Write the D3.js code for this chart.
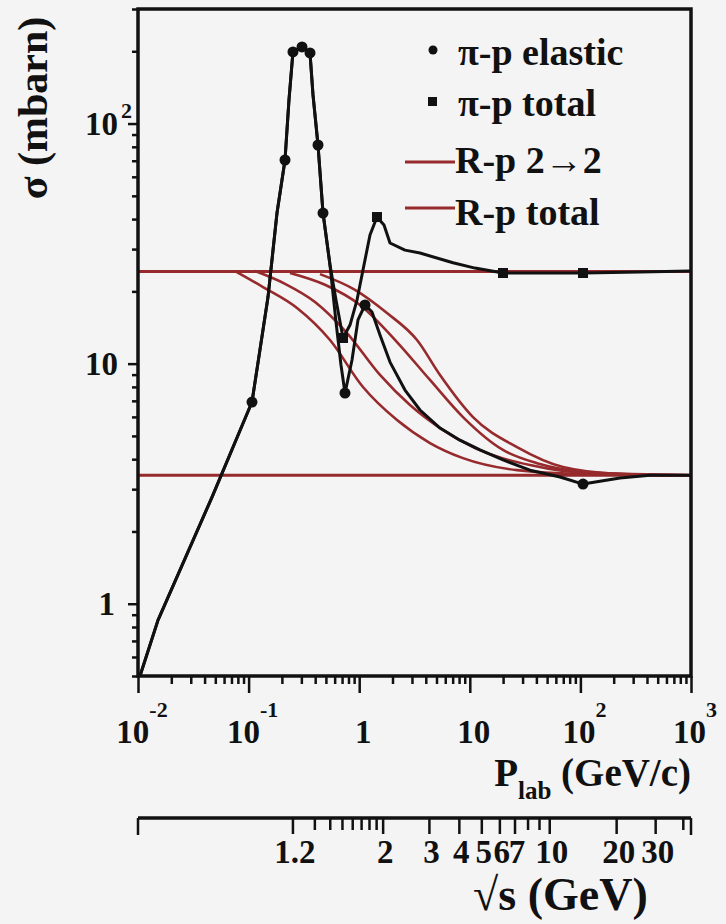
<!DOCTYPE html>
<html><head><meta charset="utf-8">
<script src="https://cdn.jsdelivr.net/npm/d3@7"></script>
<style>html,body{margin:0;padding:0;background:#f4f4f4;}svg{display:block}</style>
</head><body>
<svg id="c" width="726" height="924"></svg>
<script>
// ---------------- DATA ----------------
// pi-p elastic cross-section (p_lab GeV/c, sigma mb)
const elasticP = [0.0100,0.01517,0.0467,0.1073,0.1498,0.1806,0.2134,0.2318,0.2519,0.3040,0.3590,0.3822,0.4241,0.4708,0.5445,0.617,0.6844,0.744,0.861,0.975,1.128,1.305,1.542,1.899,2.594,3.545,5.378,8.155,12.37,19.96,35.03,65.4,105.6,228,426,979];
const elasticS = [0.4715,0.8545,2.781,6.92,18.94,42.4,70.5,125.4,198.8,208.5,196.9,131.6,81.4,42.4,25.76,14.9,9.87,7.54,10.35,15.2,17.55,16.4,13.16,10.15,7.76,6.41,5.39,4.80,4.37,3.97,3.60,3.37,3.15,3.34,3.43,3.43];
const elasticMarkP = [0.1073,0.2134,0.2519,0.3040,0.3590,0.4241,0.4708,0.744,1.128,105.6];
const elasticMarkS = [6.92,70.5,198.8,208.5,196.9,81.4,42.4,7.54,17.55,3.15];
// pi-p total cross-section
const totalP = [0.0100,0.01517,0.0467,0.1073,0.1498,0.1806,0.2134,0.2318,0.2519,0.3040,0.3590,0.3822,0.4241,0.4708,0.5445,0.617,0.714,0.8257,0.9552,1.082,1.252,1.448,1.676,1.899,2.594,3.545,7.05,11.14,19.96,43.1,105.6,345.8,979];
const totalS = [0.4715,0.8545,2.781,6.92,18.94,42.4,70.5,125.4,198.8,208.5,196.9,131.6,81.4,42.4,25.76,18.4,12.79,14.48,18.4,24.55,34.35,40.8,37.8,31.8,29.7,28.9,26.3,25.0,23.85,23.85,23.85,24.1,24.3];
const totalMarkP = [0.714,1.448,19.96,105.6];
const totalMarkS = [12.79,40.8,23.85,23.85];
// R-p model curves
const r1P = [0.0753,0.1349,0.274,0.5445,1.082,2.197,4.366,8.68,26.72,99.2,1000];
const r1S = [24.3,20.85,17.05,12.54,7.99,5.82,4.67,4.04,3.60,3.47,3.43];
const r2P = [0.1143,0.2134,0.3985,0.7758,1.542,2.88,5.378,11.14,35.03,150.4,1000];
const r2S = [24.3,21.5,18.06,13.41,8.97,6.72,5.39,4.45,3.78,3.47,3.43];
const r3P = [0.2367,0.4906,1.017,2.197,4.366,8.68,19.96,40.51,122.1,1000];
const r3S = [23.85,21.3,17.55,12.3,8.55,5.99,4.37,3.85,3.53,3.43];
const r4P = [0.4423,0.9162,1.784,3.332,5.378,10.69,26.72,69.6,228,1000];
const r4S = [23.6,20.3,16.25,12.54,8.97,5.99,4.49,3.71,3.47,3.43];
// asymptotic levels (mb)
const levels = [24.2, 3.43];
// legend
const legendLabels = ["π-p elastic","π-p total","R-p 2→2","R-p total"];
// axis ticks
const xMajor = [0.01,0.1,1,10,100,1000];
const xExp = [-2,-1,0,1,2,3];
const yMajor = [1,10,100];
const yExp = [0,1,2];
const sqrtsMajor = [1.2,2,3,4,5,6,7,10,20,30];
const sqrtsLabels = ["1.2","2","3","4","5","6","7","10","20","30"];
const sqrtsMinor = [1.3,1.4,1.5,1.6,1.7,1.8,1.9,8,9,40];

// ---------------- DRAW ----------------
const svg = d3.select('#c');
const W = 726, H = 924;
const M = {l:138, r:691, t:9, b:676};
const FONT = "'Liberation Serif','Times New Roman',serif";
const RED = '#962a2d';
const x = d3.scaleLog().domain([0.01,1000]).range([M.l,M.r]);
const y = d3.scaleLog().domain([0.5,300]).range([M.b,M.t]);

svg.append('rect').attr('width',W).attr('height',H).attr('fill','#f4f4f4');
svg.append('defs').append('clipPath').attr('id','clip')
  .append('rect').attr('x',M.l).attr('y',M.t).attr('width',M.r-M.l).attr('height',M.b-M.t);
const plot = svg.append('g').attr('clip-path','url(#clip)');

// horizontal levels
levels.forEach(v => plot.append('line')
  .attr('x1',x.range()[0]).attr('x2',x.range()[1]).attr('y1',y(v)).attr('y2',y(v))
  .attr('stroke',RED).attr('stroke-width',3));

const smooth = d3.line().x(d=>x(d[0])).y(d=>y(d[1])).curve(d3.curveMonotoneX);
const straight = d3.line().x(d=>x(d[0])).y(d=>y(d[1]));

[[r1P,r1S],[r2P,r2S],[r3P,r3S],[r4P,r4S]].forEach(([p,s]) => {
  plot.append('path').attr('d', smooth(d3.zip(p,s))).attr('fill','none')
    .attr('stroke',RED).attr('stroke-width',2.6);
});

plot.append('path').attr('d', straight(d3.zip(totalP,totalS))).attr('fill','none')
  .attr('stroke','#111').attr('stroke-width',3).attr('stroke-linejoin','round');
plot.append('path').attr('d', straight(d3.zip(elasticP,elasticS))).attr('fill','none')
  .attr('stroke','#111').attr('stroke-width',3).attr('stroke-linejoin','round');

plot.selectAll('circle.em').data(d3.zip(elasticMarkP,elasticMarkS)).join('circle')
  .attr('cx',d=>x(d[0])).attr('cy',d=>y(d[1])).attr('r',5.5).attr('fill','#111');
plot.selectAll('rect.tm').data(d3.zip(totalMarkP,totalMarkS)).join('rect')
  .attr('x',d=>x(d[0])-5).attr('y',d=>y(d[1])-5).attr('width',10).attr('height',10).attr('fill','#111');

// frame
svg.append('rect').attr('x',M.l).attr('y',M.t).attr('width',M.r-M.l).attr('height',M.b-M.t)
  .attr('fill','none').attr('stroke','#111').attr('stroke-width',3.5);

// axes
function styleAxis(g){ g.select('.domain').remove(); g.selectAll('line').attr('stroke','#111').attr('stroke-width',2.5); }
svg.append('g').attr('transform',`translate(0,${M.b})`)
  .call(d3.axisBottom(x).tickValues(x.ticks().filter(v=>!xMajor.includes(v))).tickSize(8).tickFormat('')).call(styleAxis);
svg.append('g').attr('transform',`translate(0,${M.b})`)
  .call(d3.axisBottom(x).tickValues(xMajor).tickSize(17).tickFormat('')).call(styleAxis);
svg.append('g').attr('transform',`translate(${M.l},0)`)
  .call(d3.axisLeft(y).tickValues(y.ticks().filter(v=>!yMajor.includes(v))).tickSize(6).tickFormat('')).call(styleAxis);
svg.append('g').attr('transform',`translate(${M.l},0)`)
  .call(d3.axisLeft(y).tickValues(yMajor).tickSize(10).tickFormat('')).call(styleAxis);

// x labels
xMajor.forEach((v,i) => {
  const e = xExp[i];
  const t = svg.append('text').attr('x',x(v)+4).attr('y',743).attr('text-anchor','middle')
    .attr('font-family',FONT).attr('font-weight','bold').attr('font-size',33).attr('fill','#111');
  if (e === 0) t.text('1');
  else if (e === 1) t.text('10');
  else { t.append('tspan').text('10'); t.append('tspan').attr('dy',-26).attr('font-size',22).text(String(e)); }
});
// y labels
yMajor.forEach((v,i) => {
  const e = yExp[i];
  const base = y(v)+11.5;
  svg.append('text').attr('x', e===0 ? 115 : 118).attr('y',base).attr('text-anchor','end')
    .attr('font-family',FONT).attr('font-weight','bold').attr('font-size',33).attr('fill','#111')
    .text(e===0 ? '1' : '10');
  if (e > 1) svg.append('text').attr('x',121).attr('y',base-17)
    .attr('font-family',FONT).attr('font-weight','bold').attr('font-size',22).attr('fill','#111').text(String(e));
});

// titles
svg.append('text').attr('transform','translate(47,108) rotate(-90)').attr('text-anchor','middle')
  .attr('font-family',FONT).attr('font-weight','bold').attr('font-size',42).attr('fill','#111').text('σ (mbarn)');
const xt = svg.append('text').attr('x',691).attr('y',786).attr('text-anchor','end')
  .attr('font-family',FONT).attr('font-weight','bold').attr('font-size',39).attr('fill','#111');
xt.append('tspan').text('P');
xt.append('tspan').attr('dy',13).attr('font-size',25).text('lab');
xt.append('tspan').attr('dy',-13).text(' (GeV/c)');

// lower sqrt(s) axis
const mpi = 0.1396, mp = 0.9383;
const pFromSqrtS = r => { const E = (r*r - mpi*mpi - mp*mp)/(2*mp); return Math.sqrt(E*E - mpi*mpi); };
const AY = 818;
const lower = svg.append('g');
lower.append('line').attr('x1',M.l).attr('x2',M.r).attr('y1',AY).attr('y2',AY).attr('stroke','#111').attr('stroke-width',3.5);
[M.l, M.r].forEach(px => lower.append('line').attr('x1',px).attr('x2',px).attr('y1',AY).attr('y2',AY+17).attr('stroke','#111').attr('stroke-width',2.5));
sqrtsMinor.forEach(v => { const px = x(pFromSqrtS(v));
  lower.append('line').attr('x1',px).attr('x2',px).attr('y1',AY).attr('y2',AY+12).attr('stroke','#111').attr('stroke-width',2.5); });
sqrtsMajor.forEach((v,i) => { const px = x(pFromSqrtS(v));
  lower.append('line').attr('x1',px).attr('x2',px).attr('y1',AY).attr('y2',AY+16).attr('stroke','#111').attr('stroke-width',2.5);
  lower.append('text').attr('x',px+2).attr('y',863).attr('text-anchor','middle')
    .attr('font-family',FONT).attr('font-weight','bold').attr('font-size',33).attr('fill','#111').text(sqrtsLabels[i]); });
svg.append('text').attr('x',473).attr('y',910)
  .attr('font-family',FONT).attr('font-weight','bold').attr('font-size',46).attr('fill','#111').text('√s (GeV)');

// legend
const lg = svg.append('g');
const lgBase = [65,116,173,225];
lg.append('circle').attr('cx',433).attr('cy',50).attr('r',4.5).attr('fill','#111');
lg.append('rect').attr('x',428).attr('y',97).attr('width',9).attr('height',9).attr('fill','#111');
[162,208].forEach(yy => lg.append('line').attr('x1',405).attr('x2',455).attr('y1',yy).attr('y2',yy).attr('stroke',RED).attr('stroke-width',3));
legendLabels.forEach((t,i) => lg.append('text').attr('x', i<2 ? 458 : 455).attr('y',lgBase[i])
  .attr('font-family',FONT).attr('font-weight','bold').attr('font-size',38).attr('fill','#111').text(t));
</script>
</body></html>
